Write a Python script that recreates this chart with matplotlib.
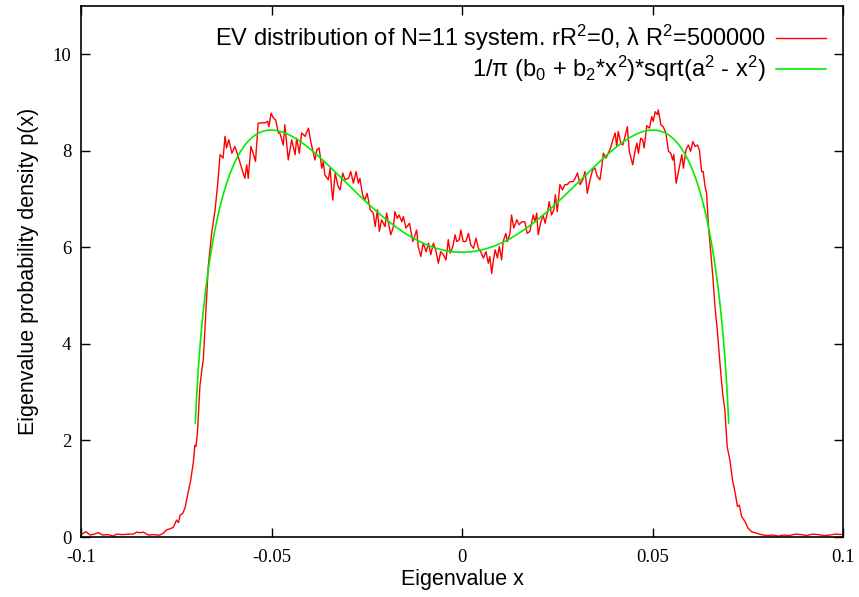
import numpy as np
import matplotlib
matplotlib.use("Agg")
import matplotlib.pyplot as plt

plt.rcParams['font.family'] = ['Liberation Sans', 'DejaVu Sans']
plt.rcParams['mathtext.fontset'] = 'custom'
plt.rcParams['mathtext.rm'] = 'Liberation Sans'
plt.rcParams['mathtext.it'] = 'Liberation Sans:italic'

# ---- data (histogram of eigenvalues) ----
ev_x = [
    -0.1000, -0.0987, -0.0976, -0.0965, -0.0955, -0.0943, -0.0930, -0.0915, -0.0906, -0.0890,
    -0.0875, -0.0863, -0.0854, -0.0845, -0.0836, -0.0823, -0.0810, -0.0800, -0.0793, -0.0784,
    -0.0775, -0.0766, -0.0758, -0.0749, -0.0744, -0.0740, -0.0733, -0.0727, -0.0721, -0.0712,
    -0.0705, -0.0701, -0.0698, -0.0694, -0.0688, -0.0683, -0.0679, -0.0673, -0.0666, -0.0657,
    -0.0648, -0.0641, -0.0635, -0.0627, -0.0622, -0.0618, -0.0612, -0.0604, -0.0596, -0.0589,
    -0.0578, -0.0570, -0.0565, -0.0561, -0.0554, -0.0548, -0.0542, -0.0535, -0.0526, -0.0517,
    -0.0510, -0.0507, -0.0501, -0.0495, -0.0489, -0.0482, -0.0478, -0.0469, -0.0465, -0.0456,
    -0.0447, -0.0438, -0.0434, -0.0427, -0.0421, -0.0412, -0.0403, -0.0397, -0.0386, -0.0381,
    -0.0375, -0.0368, -0.0364, -0.0360, -0.0351, -0.0346, -0.0342, -0.0339, -0.0333, -0.0325,
    -0.0320, -0.0313, -0.0307, -0.0298, -0.0292, -0.0285, -0.0278, -0.0272, -0.0268, -0.0261,
    -0.0255, -0.0249, -0.0241, -0.0233, -0.0228, -0.0222, -0.0217, -0.0211, -0.0202, -0.0198,
    -0.0193, -0.0187, -0.0180, -0.0176, -0.0170, -0.0165, -0.0158, -0.0154, -0.0147, -0.0138,
    -0.0129, -0.0119, -0.0115, -0.0108, -0.0102, -0.0094, -0.0088, -0.0082, -0.0075, -0.0068,
    -0.0062, -0.0056, -0.0049, -0.0042, -0.0036, -0.0031, -0.0024, -0.0018, -0.0014, -0.0007,
    -0.0003, 0.0003, 0.0010, 0.0017, 0.0023, 0.0030, 0.0037, 0.0043, 0.0049, 0.0056,
    0.0063, 0.0069, 0.0073, 0.0078, 0.0082, 0.0087, 0.0093, 0.0098, 0.0104, 0.0108,
    0.0115, 0.0119, 0.0126, 0.0130, 0.0136, 0.0144, 0.0150, 0.0157, 0.0165, 0.0171,
    0.0178, 0.0187, 0.0192, 0.0196, 0.0200, 0.0207, 0.0213, 0.0218, 0.0224, 0.0229,
    0.0235, 0.0241, 0.0245, 0.0250, 0.0257, 0.0264, 0.0270, 0.0276, 0.0283, 0.0291,
    0.0297, 0.0303, 0.0310, 0.0317, 0.0323, 0.0329, 0.0336, 0.0343, 0.0349, 0.0355,
    0.0362, 0.0367, 0.0371, 0.0378, 0.0384, 0.0390, 0.0396, 0.0402, 0.0406, 0.0410,
    0.0417, 0.0422, 0.0428, 0.0434, 0.0439, 0.0448, 0.0454, 0.0459, 0.0463, 0.0469,
    0.0474, 0.0478, 0.0485, 0.0492, 0.0498, 0.0502, 0.0507, 0.0513, 0.0515, 0.0522,
    0.0528, 0.0535, 0.0542, 0.0548, 0.0553, 0.0556, 0.0562, 0.0568, 0.0577, 0.0581,
    0.0588, 0.0594, 0.0600, 0.0606, 0.0612, 0.0618, 0.0623, 0.0629, 0.0633, 0.0638,
    0.0642, 0.0647, 0.0653, 0.0658, 0.0664, 0.0670, 0.0677, 0.0684, 0.0690, 0.0696,
    0.0703, 0.0710, 0.0717, 0.0723, 0.0728, 0.0734, 0.0743, 0.0751, 0.0760, 0.0773,
    0.0785, 0.0800, 0.0815, 0.0830, 0.0845, 0.0860, 0.0875, 0.0890, 0.0905, 0.0920,
    0.0935, 0.0950, 0.0965, 0.0980, 0.1000,
]
ev_p = [
    0.05, 0.11, 0.04, 0.06, 0.09, 0.04, 0.05, 0.02, 0.06, 0.05,
    0.06, 0.06, 0.10, 0.09, 0.10, 0.04, 0.05, 0.04, 0.04, 0.08,
    0.15, 0.17, 0.20, 0.35, 0.30, 0.45, 0.49, 0.60, 0.84, 1.18,
    1.56, 1.90, 1.88, 2.20, 3.12, 3.45, 3.67, 4.57, 5.60, 6.30,
    6.78, 7.33, 7.92, 7.85, 8.30, 8.06, 8.23, 7.95, 8.09, 7.92,
    7.64, 7.43, 7.71, 7.43, 8.09, 7.95, 7.78, 8.57, 8.58, 8.58,
    8.61, 8.50, 8.78, 8.68, 8.64, 8.37, 8.37, 8.12, 8.54, 7.81,
    8.23, 7.92, 8.26, 7.95, 8.37, 8.30, 8.47, 8.19, 7.81, 8.02,
    8.06, 7.64, 7.78, 7.50, 7.40, 7.64, 7.19, 6.98, 7.54, 7.26,
    7.19, 7.54, 7.40, 7.43, 7.57, 7.33, 7.57, 7.33, 7.43, 7.09,
    6.98, 7.12, 6.78, 6.71, 6.43, 6.78, 6.33, 6.57, 6.43, 6.71,
    6.50, 6.26, 6.43, 6.74, 6.60, 6.67, 6.53, 6.64, 6.40, 6.50,
    6.12, 6.36, 6.02, 5.81, 6.09, 5.91, 6.09, 5.85, 6.09, 5.91,
    5.67, 5.91, 5.85, 5.74, 6.16, 5.88, 6.02, 6.26, 6.12, 6.16,
    6.36, 6.12, 6.12, 6.29, 6.05, 5.98, 6.19, 5.98, 5.91, 5.78,
    5.91, 5.67, 5.81, 5.46, 5.71, 5.95, 5.78, 6.02, 5.74, 6.12,
    6.29, 6.12, 6.29, 6.67, 6.40, 6.57, 6.47, 6.53, 6.53, 6.29,
    6.33, 6.67, 6.53, 6.71, 6.26, 6.53, 6.67, 6.50, 6.71, 6.95,
    6.67, 6.78, 7.09, 6.74, 7.30, 7.19, 7.30, 7.30, 7.36, 7.36,
    7.43, 7.54, 7.30, 7.40, 7.57, 7.12, 7.40, 7.61, 7.64, 7.47,
    7.40, 7.67, 7.95, 7.85, 7.95, 8.06, 8.23, 8.37, 8.09, 8.40,
    8.16, 8.12, 8.30, 8.50, 7.99, 7.71, 7.99, 8.16, 7.95, 8.26,
    8.23, 8.06, 8.52, 8.47, 8.71, 8.61, 8.81, 8.75, 8.85, 8.54,
    8.50, 8.37, 7.99, 7.95, 7.81, 7.92, 7.33, 7.57, 7.92, 7.64,
    8.02, 8.12, 7.99, 8.19, 8.09, 8.12, 8.02, 7.57, 7.57, 7.26,
    7.12, 6.43, 5.88, 5.43, 4.77, 4.29, 3.60, 2.98, 2.63, 1.87,
    1.60, 1.18, 0.91, 0.63, 0.66, 0.42, 0.32, 0.18, 0.11, 0.08,
    0.05, 0.03, 0.04, 0.02, 0.04, 0.03, 0.06, 0.05, 0.03, 0.06,
    0.05, 0.03, 0.04, 0.06, 0.05,
]

# ---- fitted function 1/pi (b0 + b2 x^2) sqrt(a^2 - x^2), parameters estimated ----
fit_a = 0.07063
fit_b0 = 262.4
fit_b2 = 107400.0
fit_range = (-0.07, 0.07)

label_data = "EV distribution of N=11 system. rR$^2$=0, λ R$^2$=500000"
label_fit = "1/π (b$_0$ + b$_2$*x$^2$)*sqrt(a$^2$ - x$^2$)"

xticks = [-0.1, -0.05, 0, 0.05, 0.1]
xticklabels = ["-0.1", "-0.05", "0", "0.05", "0.1"]
yticks = [0, 2, 4, 6, 8, 10]
yticklabels = ["0", "2", "4", "6", "8", "10"]

fig = plt.figure(figsize=(8.59, 5.97), dpi=100)
ax = fig.add_axes([81/859, 60/597, (843-81)/859, (537-6)/597])

ax.plot(ev_x, ev_p, color='#ff0000', lw=1.0, label=label_data)
xf = np.linspace(fit_range[0], fit_range[1], 401)
yf = (fit_b0 + fit_b2 * xf**2) * np.sqrt(fit_a**2 - xf**2) / np.pi
ax.plot(xf, yf, color='#00ee00', lw=1.2, label=label_fit)

ax.set_xlim(-0.1, 0.1)
ax.set_ylim(0, 11)
ax.set_xticks(xticks)
ax.set_xticklabels(xticklabels)
ax.set_yticks(yticks)
ax.set_yticklabels(yticklabels)
for lab in ax.get_xticklabels() + ax.get_yticklabels():
    lab.set_family(['Liberation Serif', 'DejaVu Serif'])
    lab.set_fontsize(13.5)
ax.tick_params(direction='in', length=6.5, width=1.0, top=True, right=True,
               pad=7, colors='black')
ax.tick_params(axis='x', pad=9)
for sp in ax.spines.values():
    sp.set_linewidth(1.2)

ax.set_xlabel("Eigenvalue x", fontsize=15.5, labelpad=2)
ax.set_ylabel("Eigenvalue probability density p(x)", fontsize=15.5, labelpad=10)

leg = ax.legend(loc='upper right', frameon=False, markerfirst=False,
                fontsize=17, handlelength=2.1, handletextpad=0.45,
                labelspacing=0.02, borderaxespad=0.32)

fig.savefig("out.png", dpi=100)
